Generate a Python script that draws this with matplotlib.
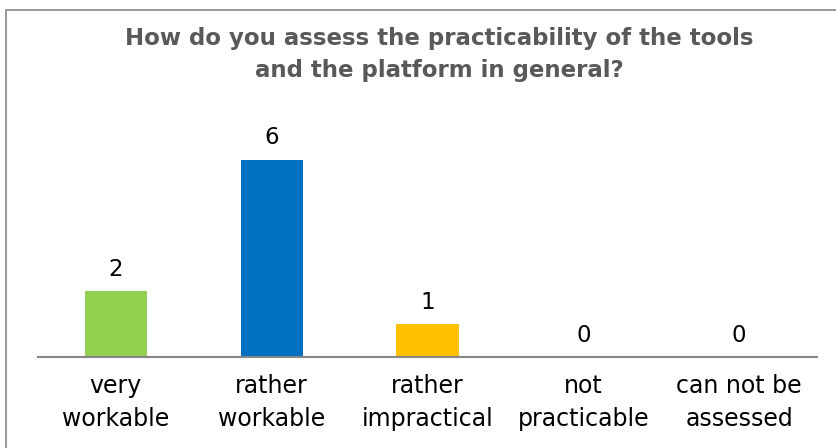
import matplotlib
matplotlib.use("Agg")
import matplotlib.pyplot as plt
from matplotlib.patches import Rectangle

# ── data ──
categories = ["very\nworkable", "rather\nworkable", "rather\nimpractical",
              "not\npracticable", "can not be\nassessed"]
counts = [2, 6, 1, 0, 0]
colors = ["#92D050", "#0070C0", "#FFC000", "#A5A5A5", "#4472C4"]
title = "How do you assess the practicability of the tools\nand the platform in general?"

plt.rcParams["font.family"] = ["DejaVu Sans"]

fig = plt.figure(figsize=(8.36, 4.48), dpi=100)
fig.patches.append(Rectangle((6 / 836, -0.1), 1.1, 1 - 10 / 448 + 0.1,
                             transform=fig.transFigure, fill=False,
                             edgecolor="#868686", linewidth=1.2))

ax = fig.add_axes([38 / 836, 1 - 357 / 448, 779 / 836, 230 / 448])
x = range(len(categories))
bars = ax.bar(x, counts, width=0.4, color=colors)
for b, v in zip(bars, counts):
    ax.annotate(str(v), (b.get_x() + b.get_width() / 2, v),
                xytext=(0, 7.5), textcoords="offset points",
                ha="center", va="bottom", fontsize=16.5, color="#000000")

ax.set_xlim(-0.5, len(categories) - 0.5)
ax.set_ylim(0, 7)
ax.set_xticks(list(x))
ax.set_xticklabels(categories, fontsize=17, linespacing=1.45)
ax.tick_params(axis="x", length=0, pad=12.5)
ax.set_yticks([])
for s in ("top", "right", "left"):
    ax.spines[s].set_visible(False)
ax.spines["bottom"].set_color("#868686")
ax.spines["bottom"].set_linewidth(1.5)

fig.text(0.525, 1 - 54 / 448, title, ha="center", va="center",
         fontsize=16.5, fontweight="bold", color="#595959", linespacing=1.5)

fig.savefig("out.png", dpi=100)
